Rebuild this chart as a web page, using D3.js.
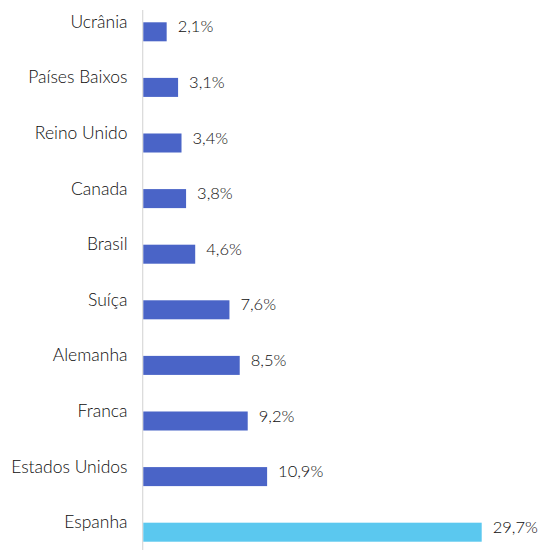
<!DOCTYPE html>
<html>
<head>
<meta charset="utf-8">
<script src="https://cdn.jsdelivr.net/npm/d3@7"></script>
<style>
  html, body { margin: 0; padding: 0; background: #fff; }
  svg { display: block; }
  text { font-family: "Lato", "Noto Sans", sans-serif; fill: #0d0d0d; font-weight: 300; }
</style>
</head>
<body>
<svg id="chart" width="539" height="550"></svg>
<script>
const categories = ["Ucrânia", "Países Baixos", "Reino Unido", "Canada", "Brasil", "Suíça", "Alemanha", "Franca", "Estados Unidos", "Espanha"];
const values = [2.1, 3.1, 3.4, 3.8, 4.6, 7.6, 8.5, 9.2, 10.9, 29.7];
const valueLabels = ["2,1%", "3,1%", "3,4%", "3,8%", "4,6%", "7,6%", "8,5%", "9,2%", "10,9%", "29,7%"];
const highlight = ["Espanha"];

const data = categories.map((c, i) => ({ c, v: values[i], l: valueLabels[i] }));

const svg = d3.select("#chart");
const x0 = 142.7;
const x = d3.scaleLinear().domain([0, 29.7]).range([x0, 481.7]);
const y = d3.scaleBand().domain(categories).range([4, 560]).paddingInner(0.658).paddingOuter(0.329);

svg.append("line")
  .attr("x1", x0).attr("x2", x0)
  .attr("y1", 10).attr("y2", 550)
  .attr("stroke", "#d9d9d9").attr("stroke-width", 1.2);

svg.selectAll("rect.bar").data(data).enter().append("rect")
  .attr("class", "bar")
  .attr("x", x(0) + 0.6)
  .attr("y", d => y(d.c))
  .attr("width", d => x(d.v) - x(0) - 0.6)
  .attr("height", y.bandwidth())
  .attr("fill", d => highlight.includes(d.c) ? "#5bc8ef" : "#4a64c7");

svg.selectAll("text.cat").data(data).enter().append("text")
  .attr("class", "cat")
  .attr("x", 127.5)
  .attr("y", d => y(d.c) + y.bandwidth() / 2 - 4)
  .attr("text-anchor", "end")
  .attr("font-size", 17.5)
  .text(d => d.c);

svg.selectAll("text.val").data(data).enter().append("text")
  .attr("class", "val")
  .attr("x", d => x(d.v) + 11)
  .attr("y", d => y(d.c) + y.bandwidth() / 2 + 0.5)
  .attr("font-size", 16.5)
  .text(d => d.l);
</script>
</body>
</html>
